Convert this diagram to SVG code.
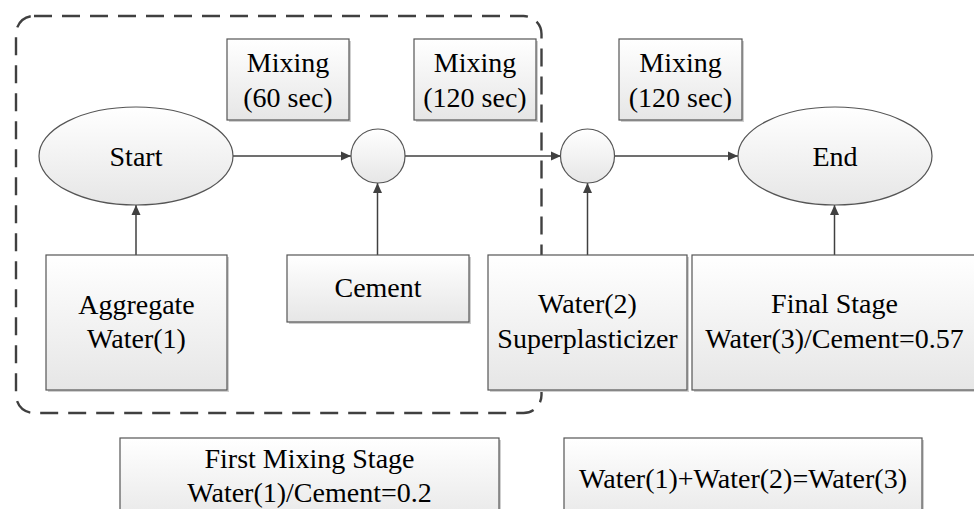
<svg xmlns="http://www.w3.org/2000/svg" width="974" height="509" viewBox="0 0 974 509">
<defs>
<linearGradient id="g" x1="0" y1="0" x2="0" y2="1">
<stop offset="0" stop-color="#ffffff"/>
<stop offset="1" stop-color="#e6e6e6"/>
</linearGradient>
<marker id="ah" viewBox="0 0 10 10" refX="10" refY="5" markerWidth="10" markerHeight="10" markerUnits="userSpaceOnUse" orient="auto">
<path d="M0,0.5 L10,5 L0,9.5 Z" fill="#404040"/>
</marker>
</defs>
<style>
.box{fill:url(#g);stroke:#555555;stroke-width:1.2}
.sh{fill:#cfcfcf}
.c{fill:none;stroke:#404040;stroke-width:1.5;marker-end:url(#ah)}
.grp{fill:none;stroke:#404040;stroke-width:2.4;stroke-dasharray:18 10}
</style>
<rect id="stage-group" class="grp" x="16" y="16" width="525.5" height="397" rx="18" ry="18"/>
<g id="connectors">
<line class="c" x1="233" y1="156" x2="351" y2="156"/>
<line class="c" x1="405" y1="156" x2="561" y2="156"/>
<line class="c" x1="614" y1="156" x2="738" y2="156"/>
<line class="c" x1="136" y1="255" x2="136" y2="205"/>
<line class="c" x1="377.5" y1="255" x2="377.5" y2="183"/>
<line class="c" x1="587.5" y1="255" x2="587.5" y2="183"/>
<line class="c" x1="834.5" y1="255" x2="834.5" y2="205"/>
</g>
<g font-family="Liberation Serif, Times New Roman, serif" font-size="28" fill="#000000" text-anchor="middle">
<g id="mix60">
<rect class="sh" x="229" y="41" width="122" height="81"/>
<rect class="box" x="227" y="39" width="122" height="81"/>
<text x="288" y="72">Mixing</text>
<text x="288" y="107">(60 sec)</text>
</g>
<g id="mix120a">
<rect class="sh" x="416" y="41" width="122" height="81"/>
<rect class="box" x="414" y="39" width="122" height="81"/>
<text x="475" y="72">Mixing</text>
<text x="475" y="107">(120 sec)</text>
</g>
<g id="mix120b">
<rect class="sh" x="621" y="41" width="123" height="81"/>
<rect class="box" x="619" y="39" width="123" height="81"/>
<text x="680.5" y="72">Mixing</text>
<text x="680.5" y="107">(120 sec)</text>
</g>
<g id="start">
<ellipse class="box" cx="136" cy="156" rx="97" ry="49"/>
<text x="136" y="166">Start</text>
</g>
<g id="mixpoint1">
<circle class="box" cx="378" cy="156" r="27"/>
</g>
<g id="mixpoint2">
<circle class="box" cx="587.5" cy="156" r="27"/>
</g>
<g id="end">
<ellipse class="box" cx="835" cy="156" rx="97" ry="49"/>
<text x="835" y="166">End</text>
</g>
<g id="aggregate">
<rect class="sh" x="48" y="257" width="181" height="135"/>
<rect class="box" x="46" y="255" width="181" height="135"/>
<text x="136.5" y="314">Aggregate</text>
<text x="136.5" y="348">Water(1)</text>
</g>
<g id="cement">
<rect class="sh" x="289" y="257" width="182" height="67"/>
<rect class="box" x="287" y="255" width="182" height="67"/>
<text x="378" y="297">Cement</text>
</g>
<g id="water2">
<rect class="sh" x="490" y="257" width="199" height="135"/>
<rect class="box" x="488" y="255" width="199" height="135"/>
<text x="587.5" y="313">Water(2)</text>
<text x="587.5" y="348">Superplasticizer</text>
</g>
<g id="final">
<rect class="sh" x="694" y="257" width="285" height="135"/>
<rect class="box" x="692" y="255" width="285" height="135"/>
<text x="834.5" y="313">Final Stage</text>
<text x="834.5" y="348">Water(3)/Cement=0.57</text>
</g>
<g id="first-stage">
<rect class="sh" x="122" y="440" width="379" height="90"/>
<rect class="box" x="120" y="438" width="379" height="90"/>
<text x="309.5" y="468">First Mixing Stage</text>
<text x="309.5" y="502">Water(1)/Cement=0.2</text>
</g>
<g id="water-sum">
<rect class="sh" x="566" y="440" width="358" height="90"/>
<rect class="box" x="564" y="438" width="358" height="90"/>
<text x="743" y="488">Water(1)+Water(2)=Water(3)</text>
</g>
</g>
</svg>
